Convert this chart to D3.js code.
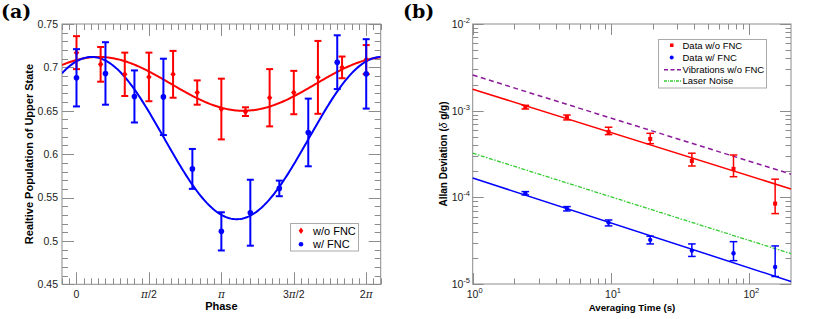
<!DOCTYPE html>
<html><head><meta charset="utf-8">
<script src="https://cdn.jsdelivr.net/npm/d3@7"></script>
<style>body{margin:0;background:#fff}svg{display:block}</style>
</head><body>
<svg id="chart" width="830" height="319"></svg>
<script>
// ---------- Panel (a) data ----------
const redPhasePi  = [0, 0.1667, 0.3333, 0.5, 0.6667, 0.8333, 1, 1.1667, 1.3333, 1.5, 1.6667, 1.8333, 2];
const redPop      = [0.717, 0.7035, 0.692, 0.689, 0.692, 0.671, 0.652, 0.649, 0.665, 0.671, 0.6885, 0.700, 0.709];
const redPopErr   = [0.019, 0.020, 0.025, 0.028, 0.027, 0.014, 0.035, 0.005, 0.033, 0.025, 0.042, 0.0125, 0.0167];
const bluePhasePi = [0, 0.2, 0.4, 0.6, 0.8, 1.0, 1.2, 1.4, 1.6, 1.8, 2.0];
const bluePop     = [0.688, 0.693, 0.6665, 0.666, 0.583, 0.511, 0.5325, 0.5605, 0.625, 0.706, 0.6925];
const bluePopErr  = [0.033, 0.036, 0.030, 0.044, 0.023, 0.022, 0.038, 0.009, 0.039, 0.031, 0.040];
// cosine fits: [offset, amplitude, phase]
const redFitParams  = [0.681, 0.031, 0.48];
const blueFitParams = [0.6185, 0.0935, 0.33];
const phaseTickLabels = ["0", "π/2", "π", "3π/2", "2π"];
const popTicks = [0.45, 0.5, 0.55, 0.6, 0.65, 0.7, 0.75];

// ---------- Panel (b) data ----------
const tau       = [2.4, 4.8, 9.6, 19.2, 38.4, 76.8, 153.6];
const redAdev   = [1.10e-3, 8.39e-4, 5.68e-4, 4.72e-4, 2.63e-4, 2.13e-4, 8.47e-5];
const redHi     = [1.153e-3, 8.91e-4, 6.44e-4, 5.48e-4, 3.23e-4, 3.08e-4, 1.62e-4];
const redLo     = [1.046e-3, 7.82e-4, 5.29e-4, 4.16e-4, 2.30e-4, 1.73e-4, 6.49e-5];
const blueAdev  = [1.114e-4, 7.41e-5, 5.11e-5, 3.23e-5, 2.43e-5, 2.26e-5, 1.57e-5];
const blueHi    = [1.164e-4, 7.82e-5, 5.48e-5, 3.56e-5, 2.90e-5, 3.08e-5, 2.75e-5];
const blueLo    = [1.066e-4, 6.97e-5, 4.68e-5, 2.90e-5, 2.08e-5, 1.86e-5, 1.22e-5];
const fitTau    = [1, 200];
const redFitLine   = [1.77e-3, 1.25e-4];
const blueFitLine  = [1.67e-4, 1.07e-5];
const vibLine      = [2.58e-3, 1.85e-4];
const laserLine    = [3.23e-4, 2.24e-5];
const tauMajor  = [1, 10, 100];
const adevMajor = [1e-5, 1e-4, 1e-3, 1e-2];

const svg = d3.select("#chart");
const FONT = "'Liberation Sans', Arial, sans-serif";
const AX = "#8c8c8c";
const RED = "#ff0000", BLUE = "#0000ff";

// ========== Panel (a) ==========
const PI = Math.PI;
const xA = d3.scaleLinear().domain([-0.1 * PI, 2.1 * PI]).range([62, 380.7]);
const yA = d3.scaleLinear().domain([0.45, 0.75]).range([284.3, 24]);
const gA = svg.append("g");

function frame(g, x, y, xMaj, xMin, yMaj, yMin, maj, mn) {
  const [x0, x1] = x.range(), [y0, y1] = y.range();
  const t = g.append("g").attr("stroke", AX).attr("stroke-width", 1).attr("fill", "none");
  const add = (vals, len, horiz) => {
    vals.forEach(v => {
      if (horiz) {
        const px = Math.round(x(v)) + 0.5;
        t.append("line").attr("x1", px).attr("x2", px).attr("y1", y0).attr("y2", y0 - len);
        t.append("line").attr("x1", px).attr("x2", px).attr("y1", y1).attr("y2", y1 + len);
      } else {
        const py = Math.round(y(v)) + 0.5;
        t.append("line").attr("y1", py).attr("y2", py).attr("x1", x0).attr("x2", x0 + len);
        t.append("line").attr("y1", py).attr("y2", py).attr("x1", x1).attr("x2", x1 - len);
      }
    });
  };
  add(xMin, mn, true); add(xMaj, maj, true);
  add(yMin, mn, false); add(yMaj, maj, false);
  t.append("rect").attr("x", x0).attr("y", y1).attr("width", x1 - x0).attr("height", y0 - y1);
}

const xMajA = d3.range(0, 5).map(k => k * PI / 2);
const xMinA = d3.range(-2, 43).map(k => k * PI / 20);
const yMinA = d3.range(45, 76).map(k => k / 100);
frame(gA, xA, yA, xMajA, xMinA, popTicks, yMinA, 12, 6);

// tick labels
gA.append("g").selectAll("text").data(popTicks).join("text")
  .attr("x", 58).attr("y", d => yA(d)).attr("dy", "0.36em")
  .attr("text-anchor", "end").attr("font-family", FONT).attr("font-size", 10.5).attr("fill", "#222")
  .text(d => d3.format(".2~f")(d));
gA.append("g").selectAll("text").data(phaseTickLabels).join("text")
  .attr("x", (d, i) => xA(xMajA[i])).attr("y", 298)
  .attr("text-anchor", "middle").attr("font-family", FONT).attr("font-size", 10.5).attr("fill", "#222")
  .each(function(d) {
    const s = d3.select(this);
    d.split("").forEach(ch => {
      s.append("tspan").attr("font-style", ch === "π" ? "italic" : null)
       .attr("font-family", ch === "π" ? "'DejaVu Serif', serif" : null).text(ch);
    });
  });

// axis titles
gA.append("text").attr("x", 221.4).attr("y", 310).attr("text-anchor", "middle")
  .attr("font-family", FONT).attr("font-weight", "bold").attr("font-size", 11).text("Phase");
gA.append("text").attr("transform", "translate(33,154) rotate(-90)").attr("text-anchor", "middle")
  .attr("font-family", FONT).attr("font-weight", "bold").attr("font-size", 11)
  .text("Realtive Population of Upper State");

// fit curves
const clipA = svg.append("clipPath").attr("id", "clipA").append("rect")
  .attr("x", 62).attr("y", 24).attr("width", 318.7).attr("height", 260.3);
const samp = d3.range(0, 201).map(i => -0.1 * PI + i * (2.2 * PI) / 200);
const fitLine = p => d3.line().x(d => xA(d)).y(d => yA(p[0] + p[1] * Math.cos(d - p[2]))).curve(d3.curveLinear);
gA.append("path").attr("d", fitLine(redFitParams)(samp)).attr("fill", "none").attr("stroke", RED).attr("stroke-width", 2).attr("clip-path", "url(#clipA)");
gA.append("path").attr("d", fitLine(blueFitParams)(samp)).attr("fill", "none").attr("stroke", BLUE).attr("stroke-width", 2).attr("clip-path", "url(#clipA)");

function errBarsA(phases, vals, errs, color, shape) {
  const g = gA.append("g").attr("stroke", color).attr("stroke-width", 2);
  phases.forEach((p, i) => {
    const cx = xA(p * PI), yt = yA(vals[i] + errs[i]), yb = yA(vals[i] - errs[i]);
    g.append("line").attr("x1", cx).attr("x2", cx).attr("y1", yt).attr("y2", yb);
    g.append("line").attr("x1", cx - 3.5).attr("x2", cx + 3.5).attr("y1", yt).attr("y2", yt);
    g.append("line").attr("x1", cx - 3.5).attr("x2", cx + 3.5).attr("y1", yb).attr("y2", yb);
    const cy = yA(vals[i]);
    if (shape === "diamond") {
      gA.append("path").attr("d", `M${cx},${cy - 3.3}L${cx + 2.7},${cy}L${cx},${cy + 3.3}L${cx - 2.7},${cy}Z`).attr("fill", color);
    } else {
      gA.append("circle").attr("cx", cx).attr("cy", cy).attr("r", 2.8).attr("fill", color);
    }
  });
}
errBarsA(redPhasePi, redPop, redPopErr, RED, "diamond");
errBarsA(bluePhasePi, bluePop, bluePopErr, BLUE, "circle");

// legend (a)
const lA = gA.append("g");
lA.append("rect").attr("x", 290.5).attr("y", 223.5).attr("width", 68).attr("height", 27.5).attr("fill", "#fff").attr("stroke", "#aaa");
lA.append("path").attr("d", "M301,227.5L303.3,230.7L301,233.9L298.7,230.7Z").attr("fill", RED);
lA.append("circle").attr("cx", 301).attr("cy", 244.3).attr("r", 2.3).attr("fill", BLUE);
lA.append("text").attr("x", 313).attr("y", 230.7).attr("dy", "0.36em").attr("font-family", FONT).attr("font-size", 11).text("w/o FNC");
lA.append("text").attr("x", 313).attr("y", 244.3).attr("dy", "0.36em").attr("font-family", FONT).attr("font-size", 11).text("w/ FNC");

svg.append("text").attr("x", 1).attr("y", 18).attr("font-family", "'DejaVu Serif', serif").attr("font-weight", "bold").attr("font-size", 19).text("(a)");
svg.append("text").attr("x", 403).attr("y", 18).attr("font-family", "'DejaVu Serif', serif").attr("font-weight", "bold").attr("font-size", 19).text("(b)");

// ========== Panel (b) ==========
const xB = d3.scaleLog().domain([1, 200]).range([472.7, 791]);
const yB = d3.scaleLog().domain([1e-5, 1e-2]).range([284, 24]);
const gB = svg.append("g");
const xMinB = [], yMinB = [];
[1, 10, 100].forEach(dec => d3.range(2, 10).forEach(m => { if (m * dec < 200) xMinB.push(m * dec); }));
[1e-5, 1e-4, 1e-3].forEach(dec => d3.range(2, 10).forEach(m => yMinB.push(m * dec)));
frame(gB, xB, yB, tauMajor, xMinB, adevMajor, yMinB, 11, 5.5);

gB.append("g").selectAll("text").data(adevMajor).join("text")
  .attr("x", 470).attr("y", d => yB(d) + 4).attr("text-anchor", "end")
  .attr("font-family", FONT).attr("font-size", 10.5).attr("fill", "#222")
  .each(function(d) {
    const s = d3.select(this);
    s.append("tspan").text("10");
    s.append("tspan").attr("dy", -5).attr("font-size", 7.5).text(String(Math.round(Math.log10(d))));
  });
gB.append("g").selectAll("text").data(tauMajor).join("text")
  .attr("x", d => xB(d) + 2).attr("y", 298).attr("text-anchor", "middle")
  .attr("font-family", FONT).attr("font-size", 10.5).attr("fill", "#222")
  .each(function(d) {
    const s = d3.select(this);
    s.append("tspan").text("10");
    s.append("tspan").attr("dy", -5).attr("font-size", 7.5).text(String(Math.round(Math.log10(d))));
  });

gB.append("text").attr("x", 632).attr("y", 311).attr("text-anchor", "middle")
  .attr("font-family", FONT).attr("font-weight", "bold").attr("font-size", 9.7).text("Averaging Time (s)");
const yt = gB.append("text").attr("transform", "translate(447,154) rotate(-90)").attr("text-anchor", "middle")
  .attr("font-family", FONT).attr("font-weight", "bold").attr("font-size", 10);
yt.append("tspan").text("Allan Deviation (");
yt.append("tspan").attr("font-style", "italic").attr("font-weight", "normal").text("δ");
yt.append("tspan").text(" g/g)");

const lineB = d3.line().x(d => xB(d[0])).y(d => yB(d[1]));
const seg = vals => fitTau.map((t, i) => [t, vals[i]]);
gB.append("path").attr("d", lineB(seg(vibLine))).attr("stroke", "#8b1a9b").attr("stroke-width", 1.5).attr("stroke-dasharray", "5,3.5").attr("fill", "none");
gB.append("path").attr("d", lineB(seg(laserLine))).attr("stroke", "#33cc33").attr("stroke-width", 1.3).attr("stroke-dasharray", "4,1.5,1.5,1.5").attr("fill", "none");
gB.append("path").attr("d", lineB(seg(redFitLine))).attr("stroke", RED).attr("stroke-width", 1.5).attr("fill", "none");
gB.append("path").attr("d", lineB(seg(blueFitLine))).attr("stroke", BLUE).attr("stroke-width", 1.5).attr("fill", "none");

function errBarsB(vals, hi, lo, color, shape) {
  const g = gB.append("g").attr("stroke", color).attr("stroke-width", 1.5);
  tau.forEach((t, i) => {
    const cx = xB(t), ya = yB(hi[i]), yb = yB(lo[i]);
    g.append("line").attr("x1", cx).attr("x2", cx).attr("y1", ya).attr("y2", yb);
    g.append("line").attr("x1", cx - 3.8).attr("x2", cx + 3.8).attr("y1", ya).attr("y2", ya);
    g.append("line").attr("x1", cx - 3.8).attr("x2", cx + 3.8).attr("y1", yb).attr("y2", yb);
    const cy = yB(vals[i]);
    if (shape === "square") gB.append("rect").attr("x", cx - 2).attr("y", cy - 2).attr("width", 4).attr("height", 4).attr("fill", color);
    else gB.append("circle").attr("cx", cx).attr("cy", cy).attr("r", 2.2).attr("fill", color);
  });
}
errBarsB(redAdev, redHi, redLo, RED, "square");
errBarsB(blueAdev, blueHi, blueLo, BLUE, "circle");

// legend (b)
const lB = gB.append("g");
lB.append("rect").attr("x", 658.5).attr("y", 39.5).attr("width", 108).attr("height", 48.5).attr("fill", "#fff").attr("stroke", "#aaa");
lB.append("rect").attr("x", 670).attr("y", 43.5).attr("width", 3.5).attr("height", 3.5).attr("fill", RED);
lB.append("circle").attr("cx", 671.7).attr("cy", 57.5).attr("r", 2).attr("fill", BLUE);
lB.append("line").attr("x1", 664).attr("x2", 682).attr("y1", 69.7).attr("y2", 69.7).attr("stroke", "#8b1a9b").attr("stroke-width", 1.5).attr("stroke-dasharray", "4,2.5");
lB.append("line").attr("x1", 664).attr("x2", 682).attr("y1", 81).attr("y2", 81).attr("stroke", "#33cc33").attr("stroke-width", 1.3).attr("stroke-dasharray", "3,1,1,1");
[["Data w/o FNC", 45.3], ["Data w/ FNC", 57.5], ["Vibrations w/o FNC", 69.7], ["Laser Noise", 81]].forEach(([t, y]) => {
  lB.append("text").attr("x", 682.5).attr("y", y).attr("dy", "0.36em").attr("font-family", FONT).attr("font-size", 9.5).text(t);
});
</script>
</body></html>
